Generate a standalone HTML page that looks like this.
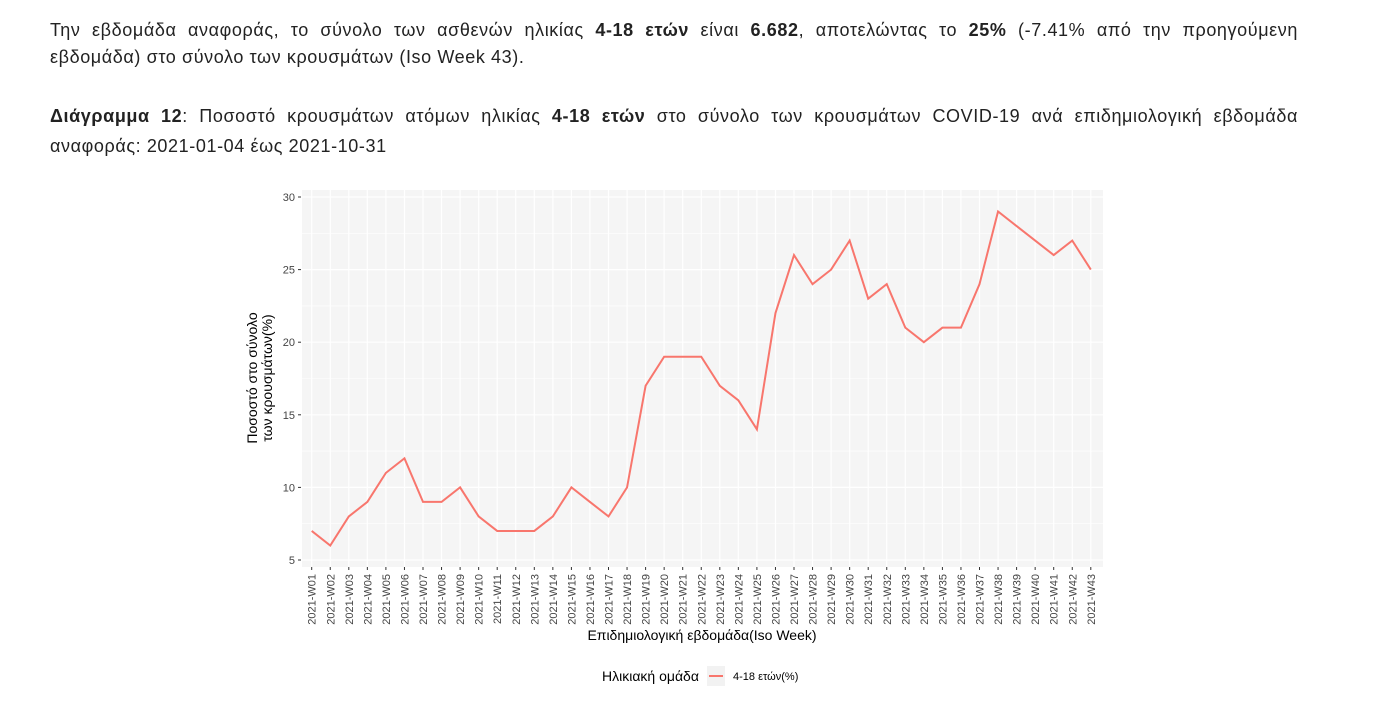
<!DOCTYPE html>
<html><head><meta charset="utf-8">
<style>
body{margin:0;width:1378px;height:704px;background:#fff;font-family:"Liberation Sans",sans-serif;color:#222;position:relative;overflow:hidden}
.l{position:absolute;left:50px;width:1248px;font-size:18px;line-height:24px;white-space:nowrap;letter-spacing:0.6px}
.j{text-align:justify;text-align-last:justify;white-space:normal}
</style></head><body>
<div class="l j" style="top:18px">Την εβδομάδα αναφοράς, το σύνολο των ασθενών ηλικίας <b>4-18 ετών</b> είναι <b>6.682</b>, αποτελώντας το <b>25%</b> (-7.41% από την προηγούμενη</div>
<div class="l" style="top:45px">εβδομάδα) στο σύνολο των κρουσμάτων (Iso Week 43).</div>
<div class="l j" style="top:104px"><b>Διάγραμμα 12</b>: Ποσοστό κρουσμάτων ατόμων ηλικίας <b>4-18 ετών</b> στο σύνολο των κρουσμάτων COVID-19 ανά επιδημιολογική εβδομάδα</div>
<div class="l" style="top:134px">αναφοράς: 2021-01-04 έως 2021-10-31</div>
<svg id="s" width="1378" height="704" style="position:absolute;left:0;top:0" font-family="Liberation Sans, sans-serif"></svg>
<script>
var d=[7,6,8,9,11,12,9,9,10,8,7,7,7,8,10,9,8,10,17,19,19,19,17,16,14,22,26,24,25,27,23,24,21,20,21,21,24,29,28,27,26,27,25];
var x0=311.7,dx=18.55,X=i=>x0+i*dx,Y=v=>560-(v-5)*14.52;
var h='<rect x="302" y="190" width="801" height="377" fill="#f5f5f5"/>';
for(var v=5;v<=30;v+=2.5){h+='<line x1="302" x2="1103" y1="'+Y(v)+'" y2="'+Y(v)+'" stroke="#fff" stroke-width="'+(v%5?0.6:1.2)+'"/>';}
for(var i=0;i<43;i++){h+='<line y1="190" y2="567" x1="'+X(i)+'" x2="'+X(i)+'" stroke="#fff" stroke-width="1.2"/>';
h+='<line y1="567" y2="570" x1="'+X(i)+'" x2="'+X(i)+'" stroke="#333"/>';
var w=(i<9?'0':'')+(i+1);
h+='<text transform="translate('+(X(i)+4)+',574) rotate(-90)" text-anchor="end" font-size="11" fill="#444">2021-W'+w+'</text>';}
for(var v=5;v<=30;v+=5){h+='<line x1="298" x2="301" y1="'+Y(v)+'" y2="'+Y(v)+'" stroke="#333"/><text x="295" y="'+(Y(v)+4)+'" text-anchor="end" font-size="11" fill="#444">'+v+'</text>';}
h+='<polyline fill="none" stroke="#f8766d" stroke-width="2" points="'+d.map((v,i)=>X(i)+','+Y(v)).join(' ')+'"/>';
h+='<text x="702" y="640" text-anchor="middle" font-size="14" fill="#000">Επιδημιολογική εβδομάδα(Iso Week)</text>';
h+='<text transform="translate(257,378) rotate(-90)" text-anchor="middle" font-size="14" fill="#000">Ποσοστό στο σύνολο</text>';
h+='<text transform="translate(272,378) rotate(-90)" text-anchor="middle" font-size="14" fill="#000">των κρουσμάτων(%)</text>';
h+='<text x="602" y="681" font-size="14" fill="#000">Ηλικιακή ομάδα</text>';
h+='<rect x="707" y="666" width="18" height="20" fill="#f2f2f2"/><line x1="709" x2="723" y1="676" y2="676" stroke="#f8766d" stroke-width="2"/>';
h+='<text x="733" y="680" font-size="11" fill="#000">4-18 ετών(%)</text>';
document.getElementById('s').innerHTML=h;
</script>
</body></html>
